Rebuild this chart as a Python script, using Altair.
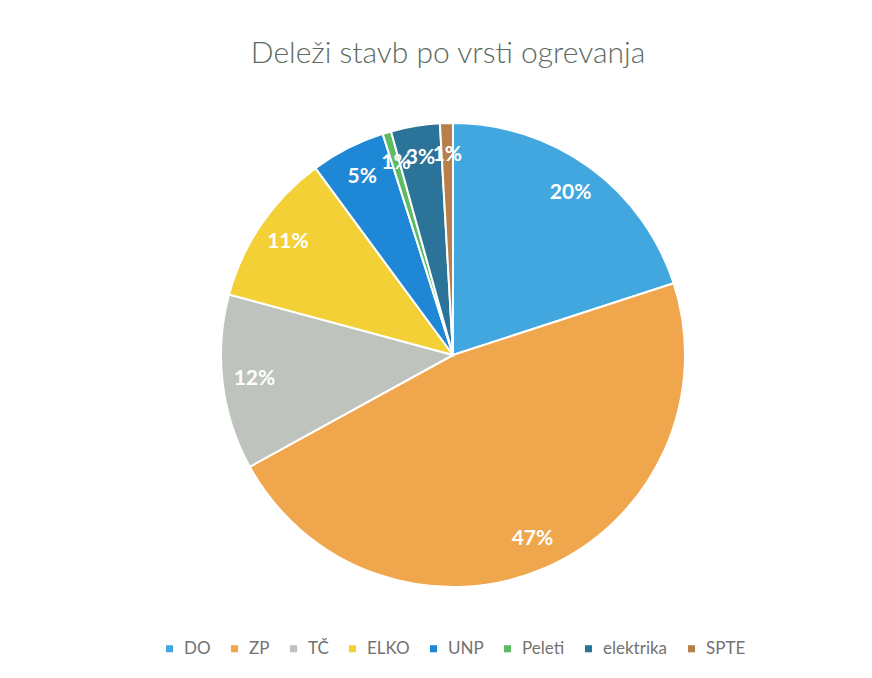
import altair as alt
import pandas as pd

categories = ["DO", "ZP", "TČ", "ELKO", "UNP", "Peleti", "elektrika", "SPTE"]
shares = [20.0, 47.0, 12.2, 10.7, 5.2, 0.6, 3.4, 0.9]
labels = ["20%", "47%", "12%", "11%", "5%", "1%", "3%", "1%"]
colors = ["#41A7DE", "#F0A64C", "#BEC4BD", "#F3D036", "#1E88D6", "#5DBB63", "#2B7398", "#B7804A"]

df = pd.DataFrame({
    "cat": categories,
    "share": shares,
    "label": labels,
    "order": list(range(len(categories))),
})

cx, cy, R = 445, 347, 232

color = alt.Color(
    "cat:N",
    scale=alt.Scale(domain=categories, range=colors),
    sort=categories,
    legend=alt.Legend(
        title=None,
        orient="none",
        direction="horizontal",
        legendX=153,
        legendY=632,
        symbolType="square",
        symbolSize=50,
        symbolStrokeWidth=0,
        labelFont="Lato",
        labelFontSize=17,
        labelColor="#727272",
        columnPadding=15,
        symbolOffset=0,
        labelOffset=6,
    ),
)

base = alt.Chart(df).encode(
    theta=alt.Theta("share:Q", stack=True),
    order=alt.Order("order:Q"),
)

pie = base.mark_arc(stroke="white", strokeWidth=2).encode(
    color=color,
    x=alt.value(cx),
    y=alt.value(cy),
    radius=alt.value(R),
)

text = base.mark_text(
    font="Lato", fontSize=21, fontWeight="bold", color="white"
).encode(
    text="label:N",
    x=alt.value(cx),
    y=alt.value(cy),
    radius=alt.value(200),
)

title = alt.Chart(pd.DataFrame({"t": ["Deleži stavb po vrsti ogrevanja"]})).mark_text(
    font="Lato", fontSize=30, fontWeight=300, color="#5c6a60", baseline="alphabetic"
).encode(
    text="t:N",
    x=alt.value(440),
    y=alt.value(55),
)

chart = alt.layer(pie, text, title).properties(
    width=856,
    height=662,
    padding=0,
    autosize=alt.AutoSizeParams(type="none"),
    background="white",
).configure_view(stroke=None)

chart.save("out.html", embed_options={"renderer": "svg", "actions": False})
